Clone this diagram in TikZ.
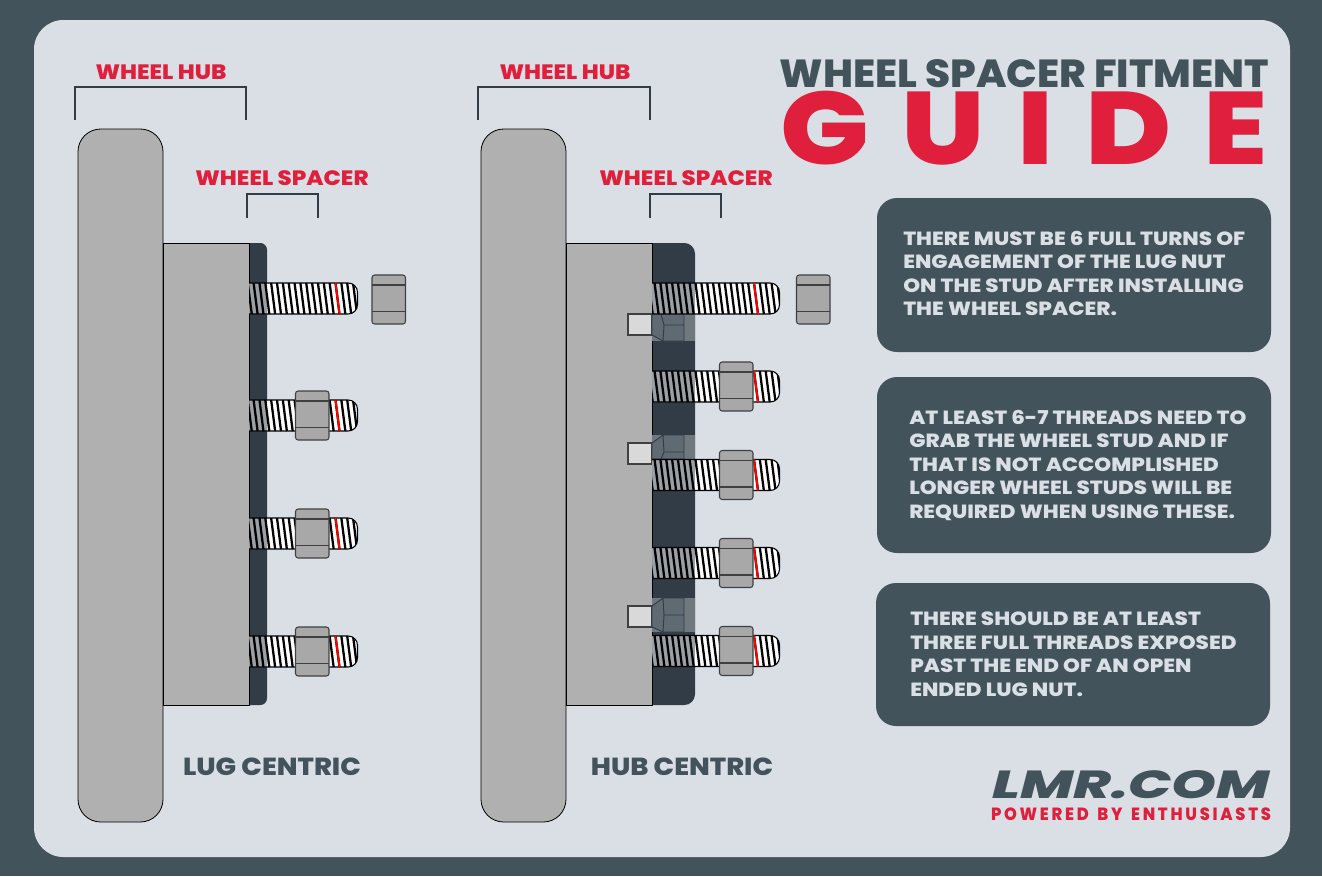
\documentclass[tikz,border=0pt]{standalone}
\usepackage{fontspec}
\usepackage{graphicx}
\newfontfamily\lmrfont{Poppins}[BoldFont={Poppins ExtraBold},FakeStretch=1.1]
\newfontfamily\lmrnote{Poppins}[BoldFont={Poppins ExtraBold},FakeStretch=1.125]
\newfontfamily\lmrplain{Poppins}[BoldFont={Poppins ExtraBold}]
\definecolor{slate}{HTML}{43535B}
\definecolor{panel}{HTML}{DADFE5}
\definecolor{lmrred}{HTML}{DF1F3C}
\definecolor{spacerdark}{HTML}{323C46}
\definecolor{hubgray}{HTML}{B0B0B0}
\definecolor{nutgray}{HTML}{A8A8A8}
\definecolor{threadshade}{HTML}{9AA0A5}
\definecolor{bandgray}{HTML}{70787E}
\definecolor{headgray}{HTML}{5F6A73}
\tikzset{
	hubpart/.style={draw=black,line width=0.6pt,fill=hubgray},
	bracket/.style={draw=spacerdark,line width=1.7pt},
	redlabel/.style={text=lmrred,font=\lmrfont\bfseries\fontsize{15.6pt}{17pt}\selectfont},
	sidelabel/.style={text=slate,font=\lmrfont\bfseries\fontsize{18.5pt}{20pt}\selectfont},
	notebox/.style={fill=slate,rounded corners=15pt},
	notetext/.style={text=panel,anchor=north west,align=left,inner sep=0pt,font=\lmrnote\bfseries\fontsize{14.3pt}{17.6pt}\selectfont},
}
% x0 = start of stud, y0 = centre, x1 = tip, xr = red thread, xs = end of shaded part
\newcommand{\threadstud}[5]{
	\fill[white,rounded corners=7pt] (#1,#2-15.5) -- (#3,#2-15.5) -- (#3,#2+15.5) -- (#1,#2+15.5);
	\fill[threadshade] (#1,#2-15.5) rectangle (#5,#2+15.5);
	\begin{scope}
		\clip[rounded corners=7pt] (#1,#2-15.5) -- (#3,#2-15.5) -- (#3,#2+15.5) -- (#1,#2+15.5);
		\foreach \k in {-4,...,22}
			\draw[black,line width=1.7pt] ({#4-\k*5.85},#2-15.5) -- ({#4-\k*5.85+4},#2+15.5);
	\end{scope}
	\draw[black,line width=0.8pt,rounded corners=7pt] (#1,#2-15.5) -- (#3,#2-15.5) -- (#3,#2+15.5) -- (#1,#2+15.5);
	\draw[red,line width=1.5pt] (#4,#2-15.5) -- (#4+4,#2+15.5);
}
% x0 = left of nut, y0 = centre
\newcommand{\lugnut}[2]{
	\draw[draw=black!75,fill=nutgray,line width=0.8pt,rounded corners=2pt] (#1,#2-24.5) rectangle (#1+33.5,#2+24.5);
	\draw[black!75,line width=0.8pt] (#1,#2-14.5) -- (#1+33.5,#2-14.5) (#1,#2+12) -- (#1+33.5,#2+12);
}
% band top, band bottom, stub top, stub bottom, head outline, head edges
\newcommand{\bolthead}[6]{
	\fill[bandgray] (652,#1) rectangle (695,#2);
	\draw[black!75,fill=black!15,line width=0.8pt] (628,#3) rectangle (652,#4);
	\fill[headgray] #5;
	\draw[spacerdark,line width=0.7pt] #5 #6;
}
\begin{document}
\begin{tikzpicture}[x=0.75pt,y=-0.75pt]
	\useasboundingbox (0,0) rectangle (1322,876);
	\fill[slate] (0,0) rectangle (1322,876);
	\fill[panel,rounded corners=22pt] (34,20) rectangle (1290,857);

	\draw[hubpart,rounded corners=17pt] (78,129) rectangle (163,822);
	\fill[spacerdark,rounded corners=5pt] (240,243) rectangle (267,705);
	\draw[hubpart] (163,243) rectangle (249,705);
	\threadstud{249}{298.5}{357.5}{335.5}{267}
	\threadstud{249}{415.5}{357.5}{335.5}{267}
	\threadstud{249}{533.5}{357.5}{335.5}{267}
	\threadstud{249}{651.5}{357.5}{335.5}{267}
	\lugnut{372}{299.5}
	\lugnut{295.5}{415.5}
	\lugnut{295.5}{533.5}
	\lugnut{295.5}{651.5}

	\draw[hubpart,rounded corners=17pt] (481,129) rectangle (566,822);
	\fill[spacerdark,rounded corners=8pt] (640,243) rectangle (695,705);
	\draw[hubpart] (566,243) rectangle (652,705);
	\bolthead{314}{341}{314}{335}{(652,314) -- (684,314) -- (684,341) -- (663,341) -- (652,335) -- cycle}{(661,314) -- (664,325) -- (663,341) (664,325) -- (684,325)}
	\bolthead{435}{459}{443}{464}{(652,443) -- (663,435) -- (684,435) -- (684,459) -- (652,459) -- cycle}{(661,459) -- (664,452) -- (663,435) (664,452) -- (684,452)}
	\bolthead{598}{632}{606}{627}{(652,606) -- (663,598) -- (684,598) -- (684,632) -- (663,632) -- (652,627) -- cycle}{(663,632) -- (664,615) -- (663,598) (664,615) -- (684,615)}
	\threadstud{652}{298.5}{779.5}{754}{695}
	\threadstud{652}{386.5}{779.5}{754}{695}
	\threadstud{652}{475}{779.5}{754}{695}
	\threadstud{652}{563}{779.5}{754}{695}
	\threadstud{652}{651}{779.5}{754}{695}
	\lugnut{796.5}{299.5}
	\lugnut{719.5}{386.5}
	\lugnut{719.5}{475}
	\lugnut{719.5}{563}
	\lugnut{719.5}{651}

	\draw[bracket] (75,120) -- (75,87) -- (246,87) -- (246,120);
	\draw[bracket] (247,218) -- (247,194) -- (318,194) -- (318,218);
	\draw[bracket] (478,120) -- (478,87) -- (650,87) -- (650,120);
	\draw[bracket] (650,218) -- (650,194) -- (721,194) -- (721,218);

	\node[redlabel] (hubleft) at (161,72.5) {WHEEL HUB};
	\node[redlabel] (spacerleft) at (282,178.5) {WHEEL SPACER};
	\node[redlabel] (hubright) at (565,72.5) {WHEEL HUB};
	\node[redlabel] (spacerright) at (686,178.5) {WHEEL SPACER};
	\node[sidelabel] (lugcentric) at (272,766.5) {LUG CENTRIC};
	\node[sidelabel] (hubcentric) at (682,766.5) {HUB CENTRIC};

	\node[inner sep=0pt,text=slate] (titletop) at (1024.5,74) {\resizebox{366.75pt}{21pt}{\lmrplain\bfseries WHEEL SPACER FITMENT}};
	\node[inner sep=0pt,text=lmrred] (titleguide) at (1024.5,128.5) {\resizebox{365.25pt}{55pt}{\lmrfont\bfseries G\hspace{0.3em}U\hspace{0.3em}I\hspace{0.3em}D\hspace{0.3em}E}};

	\fill[notebox] (877,198) rectangle (1271,352);
	\fill[notebox] (877,377) rectangle (1271,553);
	\fill[notebox] (876,583) rectangle (1270,726);
	\node[notetext] (notea) at (903,231) {THERE MUST BE 6 FULL TURNS OF\\ENGAGEMENT OF THE LUG NUT\\ON THE STUD AFTER INSTALLING\\THE WHEEL SPACER.};
	\node[notetext] (noteb) at (909,410) {AT LEAST 6-7 THREADS NEED TO\\GRAB THE WHEEL STUD AND IF\\THAT IS NOT ACCOMPLISHED\\LONGER WHEEL STUDS WILL BE\\REQUIRED WHEN USING THESE.};
	\node[notetext] (notec) at (910,612) {THERE SHOULD BE AT LEAST\\THREE FULL THREADS EXPOSED\\PAST THE END OF AN OPEN\\ENDED LUG NUT.};

	\node[inner sep=0pt,text=slate] (logo) at (1131,785) {\resizebox{208pt}{21pt}{\lmrplain\bfseries\itshape LMR.COM}};
	\node[inner sep=0pt,text=lmrred] (slogan) at (1131,814) {\resizebox{210pt}{9.5pt}{\lmrplain\bfseries P\,O\,W\,E\,R\,E\,D\, \,B\,Y\, \,E\,N\,T\,H\,U\,S\,I\,A\,S\,T\,S}};
\end{tikzpicture}
\end{document}
